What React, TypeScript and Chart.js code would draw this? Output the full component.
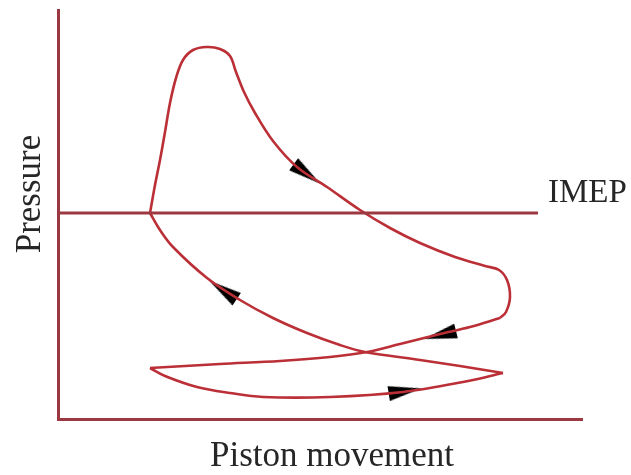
import React, { useEffect, useRef } from "react";
import { Chart, registerables } from "chart.js";

Chart.register(...registerables);

// Data units: x = piston movement, y = pressure (arbitrary)
const compressionX = [445, 402, 362, 307, 282, 249, 215, 182, 149, 115, 102, 92];
const compressionY = [46, 53, 59, 67, 74, 86, 101, 119, 141, 172, 189, 206];

const powerX = [92, 97, 102, 107, 112, 118, 125, 135, 149, 162, 172, 178, 186, 197, 215, 239, 269, 302, 332, 362, 397, 427, 441, 449, 452, 448, 442];
const powerY = [206, 234, 259, 287, 316, 341, 359, 369, 372, 370, 363, 347, 327, 306, 278, 252, 232, 209, 191, 176, 162, 153, 149, 139, 122, 107, 101];

const exhaustX = [442, 412, 382, 342, 309, 272, 222, 162, 92];
const exhaustY = [101, 92, 85, 75, 67, 62, 58, 55, 51];

const intakeX = [92, 107, 139, 172, 205, 272, 345, 405, 445];
const intakeY = [51, 43, 32, 26, 22, 22, 27, 37, 46];

const imepX = [0, 480];
const imepY = [206, 206];

const arrowX = [249, 165, 382, 347];
const arrowY = [245, 129, 84, 28];
const arrowAngle = [36, 214, 166, -9];

const xTitle = "Piston movement";
const yTitle = "Pressure";
const imepLabel = "IMEP";

const toPts = (xs: number[], ys: number[]) => xs.map((x, i) => ({ x, y: ys[i] }));

const CURVE = "#bb2f37";
const AXIS = "#9c3842";
const TEXT = "#262626";

export default function App() {
  const ref = useRef<HTMLCanvasElement | null>(null);

  useEffect(() => {
    if (!ref.current) return;
    const arrow = document.createElement("canvas");
    arrow.width = 33;
    arrow.height = 15;
    const actx = arrow.getContext("2d")!;
    actx.fillStyle = "#000";
    actx.beginPath();
    actx.moveTo(33, 7.5);
    actx.lineTo(0, 0);
    actx.lineTo(0, 15);
    actx.closePath();
    actx.fill();

    const textPlugin = {
      id: "texts",
      afterDraw(chart: any) {
        const ctx = chart.ctx;
        ctx.save();
        ctx.fillStyle = TEXT;
        ctx.textBaseline = "alphabetic";
        ctx.font = "33px 'Liberation Serif'";
        ctx.textAlign = "left";
        ctx.fillText(imepLabel, 548, 202);
        ctx.font = "35px 'Liberation Serif'";
        ctx.textAlign = "center";
        ctx.fillText(xTitle, 332, 466);
        ctx.translate(40, 194);
        ctx.rotate(-Math.PI / 2);
        ctx.fillText(yTitle, 0, 0);
        ctx.restore();
      },
    };

    const line = (xs: number[], ys: number[]) => ({
      data: toPts(xs, ys),
      showLine: true,
      borderColor: CURVE,
      borderWidth: 2.6,
      pointRadius: 0,
      tension: 0.35,
      fill: false,
      clip: false as any,
    });

    const chart = new Chart(ref.current, {
      type: "scatter",
      data: {
        datasets: [
          {
            data: toPts(imepX, imepY),
            showLine: true,
            borderColor: AXIS,
            borderWidth: 3,
            pointRadius: 0,
            clip: false as any,
          },
          line(compressionX, compressionY),
          line(powerX, powerY),
          line(exhaustX, exhaustY),
          line(intakeX, intakeY),
          {
            data: toPts(arrowX, arrowY),
            showLine: false,
            pointStyle: arrow as any,
            pointRotation: arrowAngle as any,
            pointRadius: 8,
            clip: false as any,
          },
        ],
      },
      options: {
        animation: false,
        responsive: false,
        maintainAspectRatio: false,
        layout: { padding: { left: 58, right: 49, top: 10, bottom: 56 } },
        plugins: { legend: { display: false }, tooltip: { enabled: false }, title: { display: false } },
        events: [],
        scales: {
          x: {
            type: "linear",
            min: 0,
            max: 524,
            ticks: { display: false },
            grid: { display: false, drawTicks: false },
            border: { display: true, color: AXIS, width: 3 },
            afterFit: (s: any) => {
              s.height = 0;
            },
          },
          y: {
            type: "linear",
            min: 0,
            max: 409,
            ticks: { display: false },
            grid: { display: false, drawTicks: false },
            border: { display: true, color: AXIS, width: 3 },
            afterFit: (s: any) => {
              s.width = 0;
            },
          },
        },
      },
      plugins: [textPlugin],
    });
    return () => chart.destroy();
  }, []);

  return (
    <div style={{ position: "fixed", left: 0, top: 0, width: 631, height: 475, background: "#fff" }}>
      <canvas ref={ref} width={631} height={475} style={{ width: 631, height: 475, display: "block" }} />
    </div>
  );
}
